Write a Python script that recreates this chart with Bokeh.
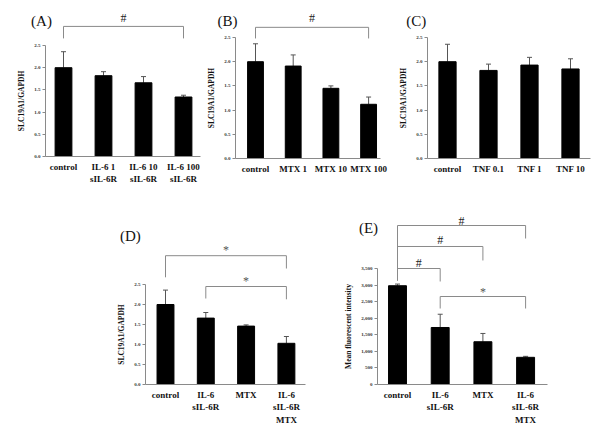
from bokeh.plotting import figure
from bokeh.models import (Range1d, FixedTicker, Whisker, TeeHead, ColumnDataSource,
                          Label, NumeralTickFormatter, LinearAxis)
from bokeh.core.properties import value
from bokeh.embed import file_html
from bokeh.resources import INLINE

# ---------------- data ----------------
cats_A = ["control", "IL-6 1\nsIL-6R", "IL-6 10\nsIL-6R", "IL-6 100\nsIL-6R"]
vals_A = [2.00, 1.82, 1.66, 1.34]
err_A = [0.36, 0.09, 0.14, 0.04]

cats_B = ["control", "MTX 1", "MTX 10", "MTX 100"]
vals_B = [2.00, 1.91, 1.45, 1.12]
err_B = [0.37, 0.23, 0.05, 0.15]

cats_C = ["control", "TNF 0.1", "TNF 1", "TNF 10"]
vals_C = [2.00, 1.82, 1.93, 1.85]
err_C = [0.36, 0.13, 0.16, 0.21]

cats_D = ["control", "IL-6\nsIL-6R", "MTX", "IL-6\nsIL-6R\nMTX"]
vals_D = [2.00, 1.66, 1.46, 1.03]
err_D = [0.36, 0.14, 0.03, 0.17]

cats_E = ["control", "IL-6\nsIL-6R", "MTX", "IL-6\nsIL-6R\nMTX"]
vals_E = [2980, 1720, 1290, 820]
err_E = [50, 400, 250, 30]

ticks_ratio = [0, 0.5, 1.0, 1.5, 2.0, 2.5]
ticks_mfi = [0, 500, 1000, 1500, 2000, 2500, 3000, 3500]
ylabel_ratio = "SLC19A1/GAPDH"
ylabel_mfi = "Mean fluorescent intensity"

# significance brackets: (first bar index, second bar index, symbol)
brk_A = [(0, 3, "#")]
brk_B = [(0, 3, "#")]
brk_C = []
brk_D = [(0, 3, "*"), (1, 3, "*")]
brk_E = [(0, 3, "#"), (0, 2, "#"), (0, 1, "#"), (1, 3, "*")]

# ---------------- drawing ----------------
W, H = 600, 430
SERIF = value("Liberation Serif")
GRAY = "#8a8a8a"

p = figure(width=W, height=H, output_backend="svg", toolbar_location=None,
           x_range=Range1d(0, W), y_range=Range1d(0, H),
           x_axis_type=None, y_axis_type=None,
           min_border_left=0, min_border_right=0, min_border_top=0,
           min_border_bottom=0)
p.outline_line_color = None
p.grid.visible = False


def panel(name, cats, vals, errs, axis_px, bar1_px, spacing, end_px, base_px, ppu,
          yticks, ylabel, fmt, letter, letter_xy, brackets, levels):
    x0 = 1 - bar1_px / spacing
    p.extra_x_ranges[name] = Range1d(x0, x0 + W / spacing)
    p.extra_y_ranges[name] = Range1d(-(H - base_px) / ppu, base_px / ppu)
    x_axis = 1 - (bar1_px - axis_px) / spacing
    x_axis_end = 1 + (end_px - bar1_px) / spacing
    rn = dict(x_range_name=name, y_range_name=name)

    xs = list(range(1, len(cats) + 1))
    src = ColumnDataSource(dict(x=xs, top=vals,
                                upper=[v + e for v, e in zip(vals, errs)]))
    p.vbar(x="x", top="top", bottom=0, width=0.42, source=src,
           fill_color="black", line_color="black", **rn)
    p.add_layout(Whisker(base="x", lower="top", upper="upper", source=src,
                         dimension="height", line_color="#555555", line_width=1,
                         upper_head=TeeHead(size=5, line_color="#555555", line_width=1),
                         lower_head=None, **rn))

    xa = LinearAxis(fixed_location=0, bounds=(x_axis, x_axis_end),
                    ticker=FixedTicker(ticks=xs),
                    major_label_overrides={x: c for x, c in zip(xs, cats)},
                    major_tick_line_color=None, minor_tick_line_color=None,
                    major_tick_out=0, major_tick_in=0,
                    minor_tick_out=0, minor_tick_in=0,
                    axis_line_color=GRAY, major_label_standoff=5,
                    major_label_text_font="Liberation Serif",
                    major_label_text_font_style="bold",
                    major_label_text_font_size="9px",
                    major_label_text_color="#111111",
                    major_label_text_line_height=1.25, **rn)
    p.add_layout(xa, "below")

    ya = LinearAxis(fixed_location=x_axis, bounds=(yticks[0], yticks[-1]),
                    ticker=FixedTicker(ticks=yticks),
                    formatter=NumeralTickFormatter(format=fmt),
                    axis_line_color=GRAY, major_tick_line_color=GRAY,
                    major_tick_out=3, major_tick_in=0, minor_tick_line_color=None,
                    minor_tick_out=0, minor_tick_in=0,
                    major_label_standoff=2,
                    major_label_text_font="Liberation Serif",
                    major_label_text_font_style="bold",
                    major_label_text_font_size="5px",
                    major_label_text_color="#333333",
                    axis_label=ylabel, axis_label_text_font="Liberation Serif",
                    axis_label_text_font_style="bold",
                    axis_label_text_font_size="7.5px",
                    axis_label_text_color="#111111", axis_label_standoff=5, **rn)
    p.add_layout(ya, "left")

    p.add_layout(Label(x=letter_xy[0], y=letter_xy[1], text=letter,
                       text_font="Liberation Serif", text_font_size="15px",
                       text_align="center", text_baseline="middle",
                       text_color="#111111", **rn))

    for (i, j, sym), (ytop, ldrop, rdrop, sy) in zip(brackets, levels):
        xi, xj = xs[i], xs[j]
        p.line(x=[xi, xi, xj, xj], y=[ldrop, ytop, ytop, rdrop],
               line_color=GRAY, line_width=1, **rn)
        p.text(x=[(xi + xj) / 2], y=[sy], text=[sym], text_font=SERIF,
               text_font_size="12px", text_align="center", text_baseline="middle",
               text_color="#222222" if sym == "#" else "#555555", **rn)


panel("A", cats_A, vals_A, err_A, 45, 63, 40.0, 200, 156, 44.4,
      ticks_ratio, ylabel_ratio, "0.0", "(A)", (0.45, 3.06), brk_A,
      [(2.93, 2.66, 2.66, 3.13)])
panel("B", cats_B, vals_B, err_B, 235, 255, 37.7, 380, 158, 48.4,
      ticks_ratio, ylabel_ratio, "0.0", "(B)", (0.26, 2.85), brk_B,
      [(2.71, 2.48, 2.48, 2.91)])
panel("C", cats_C, vals_C, err_C, 427, 447, 41.0, 590, 158, 48.4,
      ticks_ratio, ylabel_ratio, "0.0", "(C)", (0.24, 2.85), brk_C, [])
panel("D", cats_D, vals_D, err_D, 145, 165, 40.3, 305, 384, 40.0,
      ticks_ratio, ylabel_ratio, "0.0", "(D)", (0.13, 3.72), brk_D,
      [(3.22, 2.68, 2.9, 3.36), (2.45, 2.15, 2.13, 2.58)])
panel("E", cats_E, vals_E, err_E, 377, 397, 42.7, 547, 384, 116 / 3500,
      ticks_mfi, ylabel_mfi, "0,0", "(E)", (0.32, 4707), brk_E,
      [(4797, 3138, 4405, 4948), (4164, 3138, 3742, 4345),
       (3500, 3138, 3108, 3681), (2655, 2293, 2293, 2776)])

open("out.html", "w").write(file_html(p, INLINE))
